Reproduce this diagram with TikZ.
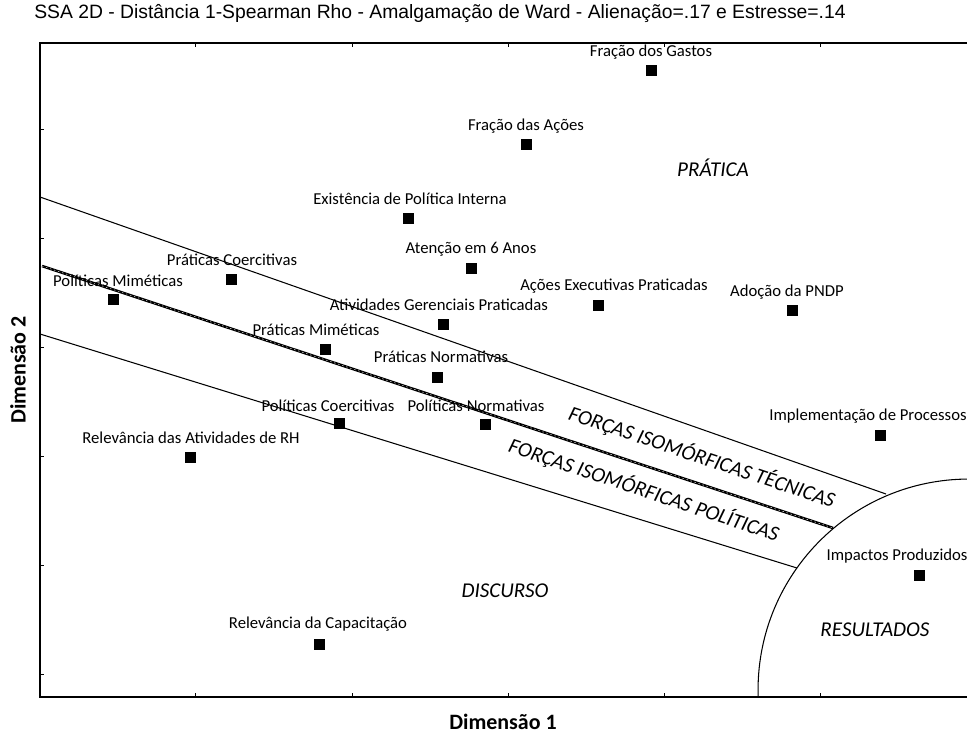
\documentclass[tikz,border=0pt]{standalone}
\usepackage{fontspec}
\setmainfont{Carlito}
\newfontfamily\arialfont{Liberation Sans}
\begin{document}
\begin{tikzpicture}[x=0.02cm, y=-0.02cm,
	ponto/.style={fill=black, minimum size=0.22cm, inner sep=0pt},
	rotulo/.style={font=\fontsize{9.5}{11}\selectfont, inner sep=0pt},
	regiao/.style={font=\fontsize{12}{13}\selectfont\itshape, inner sep=0pt},
	eixo/.style={font=\fontsize{12.5}{14}\selectfont\bfseries, inner sep=0pt}]
	\useasboundingbox (0,0) rectangle (967,734);
	
	\node[font=\arialfont\fontsize{11}{13}\selectfont, inner sep=0pt] (titulo) at (440,14) {SSA 2D - Distância 1-Spearman Rho - Amalgamação de Ward - Alienação=.17 e Estresse=.14};
	
	\draw[line width=1pt] (40,43) rectangle (990,697);
	\foreach \x in {195, 352, 508, 664, 820}
	{
		\draw (\x,43) -- (\x,47);
		\draw (\x,697) -- (\x,693);
	}
	\foreach \y in {129, 238, 347, 456, 565, 674}
		\draw (40,\y) -- (44,\y);
	
	\draw[line width=0.6pt] (40,197) -- (886,494);
	\draw[line width=0.6pt] (40,334) -- (797,568);
	\draw[line width=1.5pt] (42,266) -- (833,528);
	\draw[white, line width=0.25pt, dash pattern=on 0.8pt off 1.6pt] (42,266) -- (833,528);
	
	\begin{scope}
		\clip (40,43) rectangle (967,697);
		\draw[line width=0.6pt] (969,690) circle (4.22cm);
	\end{scope}
	
	\foreach \px/\py/\lx/\ly/\texto [count=\i] in {651/70/651/52/Fração dos Gastos, 526/144/526/126/Fração das Ações, 408/218/410/199/Existência de Política Interna, 471/268/471/249/Atenção em 6 Anos, 231/279/232/260/Práticas Coercitivas, 113/299/118/281/Políticas Miméticas, 598/305/614/286/Ações Executivas Praticadas, 792/310/787/292/Adoção da PNDP, 443/324/439/305/Atividades Gerenciais Praticadas, 325/349/316/330/Práticas Miméticas, 437/377/441/357/Práticas Normativas, 339/423/328/406/Políticas Coercitivas, 485/424/476/406/Políticas Normativas, 190/457/191/438/Relevância das Atividades de RH, 880/435/868/416/Implementação de Processos, 919/575/897/556/Impactos Produzidos, 319/644/318/624/Relevância da Capacitação}
	{
		\node[ponto] (p\i) at (\px,\py) {};
		\node[rotulo] (r\i) at (\lx,\ly) {\texto};
	}
	
	\node[regiao] (pratica) at (713,168) {PRÁTICA};
	\node[regiao] (discurso) at (505,591) {DISCURSO};
	\node[regiao] (resultados) at (875,630) {RESULTADOS};
	\node[regiao, rotate=-18.5] (tecnicas) at (702,457) {FORÇAS ISOMÓRFICAS TÉCNICAS};
	\node[regiao, rotate=-18.5] (politicas) at (644,490) {FORÇAS ISOMÓRFICAS POLÍTICAS};
	
	\node[eixo] (dim1) at (503,722) {Dimensão 1};
	\node[eixo, rotate=90] (dim2) at (18,370) {Dimensão 2};
\end{tikzpicture}
\end{document}
